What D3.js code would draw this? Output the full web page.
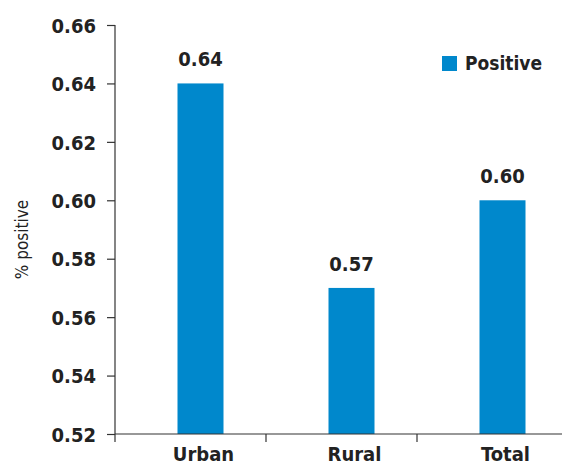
<!DOCTYPE html>
<html>
<head>
<meta charset="utf-8">
<script src="https://cdn.jsdelivr.net/npm/d3@7"></script>
<style>
  html, body { margin: 0; padding: 0; background: #fff; }
  svg { display: block; }
  text { font-family: "DejaVu Sans Condensed", "DejaVu Sans", sans-serif; fill: #222; }
</style>
</head>
<body>
<svg id="chart" width="562" height="466"></svg>
<script>
// Share of positive responses by area
const categories = ["Urban", "Rural", "Total"];
const positive = [0.64, 0.57, 0.60];
const yTicks = [0.52, 0.54, 0.56, 0.58, 0.60, 0.62, 0.64, 0.66];
const seriesName = "Positive";

(function () {
  const W = 562;
  const m = { left: 115, right: 568, top: 25, bottom: 434 };
  const barColor = "#0088cc";
  const axisColor = "#333";

  const svg = d3.select("#chart");

  const y = d3.scaleLinear().domain([0.52, 0.66]).range([m.bottom, m.top]);
  const x = d3.scaleBand().domain(categories).range([m.left, m.right]).padding(0);
  const barW = 46;
  const barShift = 10;
  const cx = c => x(c) + x.bandwidth() / 2 + barShift;

  // bars
  svg.append("g").selectAll("rect")
    .data(categories)
    .join("rect")
    .attr("x", c => cx(c) - barW / 2)
    .attr("width", barW)
    .attr("y", (c, i) => y(positive[i]))
    .attr("height", (c, i) => m.bottom - y(positive[i]))
    .attr("fill", barColor);

  // value labels
  svg.append("g").selectAll("text")
    .data(categories)
    .join("text")
    .attr("x", c => cx(c))
    .attr("y", (c, i) => y(positive[i]) - 17)
    .attr("text-anchor", "middle")
    .style("font-size", "20px")
    .style("font-weight", "bold")
    .text((c, i) => positive[i].toFixed(2));

  // y axis
  const yAxis = d3.axisLeft(y).tickValues(yTicks).tickFormat(d3.format(".2f")).tickSize(8).tickPadding(11);
  const gy = svg.append("g").attr("transform", `translate(${m.left},0)`).call(yAxis);
  gy.select(".domain").remove();
  gy.append("line").attr("x1", 0).attr("x2", 0).attr("y1", m.top).attr("y2", m.bottom + 8)
    .attr("stroke", axisColor).attr("stroke-width", 1.2);
  gy.selectAll(".tick line").attr("stroke", axisColor).attr("stroke-width", 1.2);
  gy.selectAll(".tick text").style("font-size", "20px").style("font-weight", "bold")
    .style("font-family", "'DejaVu Sans Condensed', 'DejaVu Sans', sans-serif")
    .attr("fill", "#222").attr("dy", "0.36em");

  // x axis
  const gx = svg.append("g").attr("transform", `translate(0,${m.bottom})`);
  gx.append("line").attr("x1", m.left).attr("x2", W).attr("y1", 0).attr("y2", 0)
    .attr("stroke", axisColor).attr("stroke-width", 1.2);
  gx.selectAll("line.sep")
    .data(categories.slice(1))
    .join("line")
    .attr("class", "sep")
    .attr("x1", c => x(c)).attr("x2", c => x(c))
    .attr("y1", 0).attr("y2", 8)
    .attr("stroke", axisColor).attr("stroke-width", 1.2);
  gx.selectAll("text")
    .data(categories)
    .join("text")
    .attr("x", c => cx(c) + 3)
    .attr("y", 27)
    .attr("text-anchor", "middle")
    .style("font-size", "20px")
    .style("font-weight", "bold")
    .text(c => c);

  // y axis title
  svg.append("text")
    .attr("transform", `translate(28,${(m.top + m.bottom) / 2 + 10}) rotate(-90)`)
    .attr("text-anchor", "middle")
    .style("font-size", "17px")
    .text("% positive");

  // legend
  const lg = svg.append("g").attr("transform", "translate(442,56)");
  lg.append("rect").attr("width", 15).attr("height", 15).attr("fill", barColor);
  lg.append("text").attr("x", 23).attr("y", 14)
    .style("font-size", "19px").style("font-weight", "bold").text(seriesName);
})();
</script>
</body>
</html>
